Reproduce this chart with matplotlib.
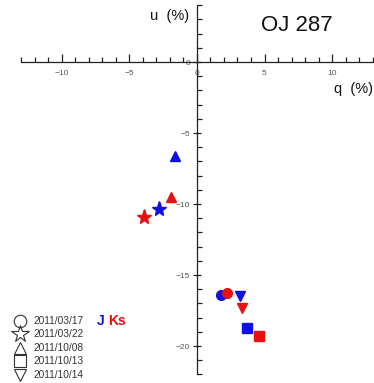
import matplotlib
matplotlib.use("Agg")
import matplotlib.pyplot as plt
from matplotlib.ticker import FixedLocator

plt.rcParams['font.family'] = ['Liberation Sans', 'DejaVu Sans']

dates = ["2011/03/17", "2011/03/22", "2011/10/08", "2011/10/13", "2011/10/14"]
markers = ["o", "*", "^", "s", "v"]
q_J = [1.75, -2.8, -1.6, 3.7, 3.2]
u_J = [-16.4, -10.35, -6.6, -18.7, -16.5]
q_Ks = [2.2, -3.9, -1.9, 4.6, 3.35]
u_Ks = [-16.25, -10.9, -9.5, -19.3, -17.3]
sizes = [7, 11, 6.5, 7, 6.5]
legend_sizes = [9, 13, 9, 8.5, 8.5]

fig = plt.figure(figsize=(3.74, 3.83), dpi=100)
ax = fig.add_axes([0, 0, 1, 1])
ax.set_xlim(-14.59, 13.11)
ax.set_ylim(-22.6, 4.37)

for s in ['top', 'right']:
    ax.spines[s].set_visible(False)
ax.spines['left'].set_position(('data', 0))
ax.spines['bottom'].set_position(('data', 0))
ax.spines['left'].set_bounds(-22, 4)
ax.spines['bottom'].set_bounds(-13, 13.1)
for s in ['left', 'bottom']:
    ax.spines[s].set_linewidth(0.9)
    ax.spines[s].set_color('#222222')

ax.xaxis.set_minor_locator(FixedLocator(list(range(-13, 14))))
ax.yaxis.set_minor_locator(FixedLocator(list(range(-22, 5))))
ax.tick_params(axis='x', which='major', direction='in', length=6, width=0.9,
               labelsize=6, pad=6, colors='#222222', labelcolor='#555555')
ax.tick_params(axis='x', which='minor', direction='in', length=3.5, width=0.9, colors='#222222')
ax.tick_params(axis='y', which='major', direction='inout', length=6, width=0.9,
               labelsize=6, pad=2, colors='#222222', labelcolor='#555555')
ax.tick_params(axis='y', which='minor', direction='in', length=3.5, width=0.9, colors='#222222')

ax.set_xticks([-10, -5, 0, 5, 10])
ax.set_xticklabels(["\u221210", "\u22125", "0", "5", "10"])
ax.set_yticks([-20, -15, -10, -5, 0])
ax.set_yticklabels(["\u221220", "\u221215", "\u221210", "\u22125", "0"])

for m, qj, uj, qk, uk, ms in zip(markers, q_J, u_J, q_Ks, u_Ks, sizes):
    ax.plot(qj, uj, marker=m, color='#1010e0', ms=ms, ls='none', zorder=3)
    ax.plot(qk, uk, marker=m, color='#e81010', ms=ms, ls='none', zorder=4)

ax.text(-0.55, 3.25, "u  (%)", fontsize=10.5, ha='right', va='center', color='#111111')
ax.text(13.05, -1.9, "q  (%)", fontsize=10.5, ha='right', va='center', color='#111111')
ax.text(7.4, 2.6, "OJ 287", fontsize=16, ha='center', va='center', color='#111111')

# legend
y0 = 0.162
dy = 0.035
for i, (d, m) in enumerate(zip(dates, markers)):
    y = y0 - i * dy
    ax.plot([0.054], [y], marker=m, transform=ax.transAxes, ls='none',
            mfc='none', mec='#333333', mew=0.8, ms=legend_sizes[i], clip_on=False)
    ax.text(0.09, y, d, transform=ax.transAxes, fontsize=7.3, va='center',
            ha='left', color='#333333')
ax.text(0.258, y0, "J", transform=ax.transAxes, fontsize=10, color='#1010e0',
        va='center', ha='left', fontweight='bold')
ax.text(0.29, y0, "Ks", transform=ax.transAxes, fontsize=10, color='#e81010',
        va='center', ha='left', fontweight='bold')

fig.savefig("out.png", dpi=100)
